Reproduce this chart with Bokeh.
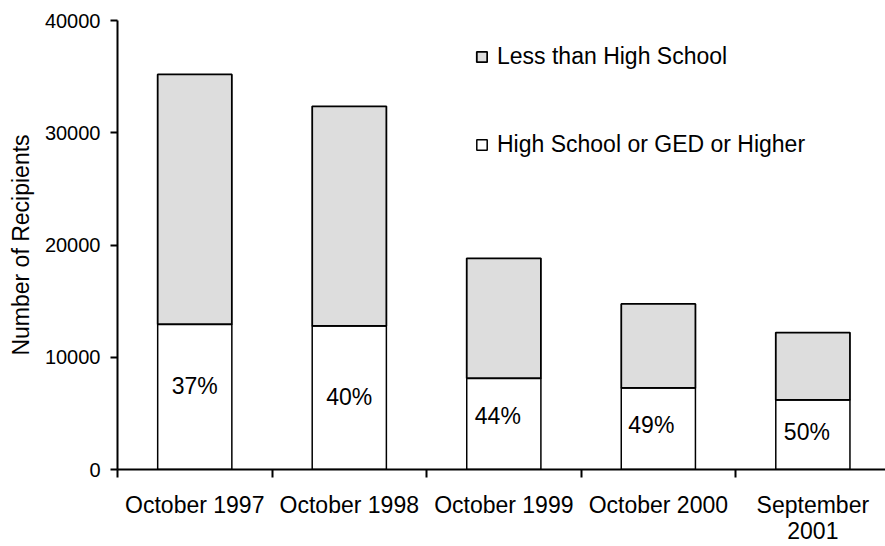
from bokeh.plotting import figure
from bokeh.models import ColumnDataSource, FixedTicker, Range1d, Legend, LegendItem
from bokeh.core.properties import value
from bokeh.embed import file_html
from bokeh.resources import INLINE

# ---- data ----
categories = ["October 1997", "October 1998", "October 1999", "October 2000", "September\n2001"]
hs_or_higher = [12940, 12790, 8130, 7270, 6200]
total_recipients = [35200, 32350, 18810, 14750, 12200]
pct_labels = ["37%", "40%", "44%", "49%", "50%"]
y_ticks = [0, 10000, 20000, 30000, 40000]

# label placement (layout, not data)
pct_label_y = [7480, 6420, 4810, 3920, 3300]
pct_label_dx = [0, 0, -6, -7, -6]

FONT = "Liberation Sans"

less_than_hs = [t - h for t, h in zip(total_recipients, hs_or_higher)]
xs = [i + 0.5 for i in range(len(categories))]

src = ColumnDataSource(dict(x=xs, hs=hs_or_higher, less=less_than_hs,
                            total=total_recipients, lab=pct_labels,
                            ly=pct_label_y, dx=pct_label_dx))

p = figure(width=885, height=546, output_backend="svg", toolbar_location=None,
           x_range=Range1d(0, 4.97), y_range=Range1d(0, 40000),
           min_border_left=117, min_border_right=0, min_border_top=20,
           min_border_bottom=77)
p.outline_line_color = None
p.grid.visible = False
p.background_fill_color = "white"
p.border_fill_color = "white"

r_hs = p.vbar(x="x", width=0.48, bottom=0, top="hs", source=src,
              fill_color="white", line_color="black", line_width=1.5)
r_less = p.vbar(x="x", width=0.48, bottom="hs", top="total", source=src,
                fill_color="#dddddd", line_color="black", line_width=1.8)

p.text(x="x", y="ly", text="lab", source=src, x_offset="dx",
       text_font=value(FONT), text_font_size="23px", text_align="center",
       text_baseline="middle", text_color="black")

# x axis
xa = p.xaxis[0]
xa.ticker = FixedTicker(ticks=xs, minor_ticks=list(range(len(categories) + 1)))
xa.major_label_overrides = {x: c for x, c in zip(xs, categories)}
xa.major_tick_out = 0
xa.major_tick_in = 0
xa.minor_tick_out = 8
xa.minor_tick_in = 0
xa.minor_tick_line_width = 2
xa.minor_tick_line_color = "black"
xa.axis_line_width = 2
xa.axis_line_color = "black"
xa.major_label_text_font = FONT
xa.major_label_text_font_size = "23px"
xa.major_label_text_color = "black"
xa.major_label_text_line_height = 1.0
xa.major_label_standoff = 14

# y axis
ya = p.yaxis[0]
ya.ticker = FixedTicker(ticks=y_ticks)
ya.major_tick_out = 7
ya.major_tick_in = 0
ya.minor_tick_line_color = None
ya.major_tick_line_width = 2
ya.axis_line_width = 2
ya.axis_line_color = "black"
ya.major_label_text_font = FONT
ya.major_label_text_font_size = "20px"
ya.major_label_text_color = "black"
ya.major_label_standoff = 10
ya.axis_label = "Number of Recipients"
ya.axis_label_text_font = FONT
ya.axis_label_text_font_size = "23px"
ya.axis_label_text_font_style = "normal"
ya.axis_label_text_color = "black"
ya.axis_label_standoff = 8

legend = Legend(items=[LegendItem(label="Less than High School", renderers=[r_less]),
                       LegendItem(label="High School or GED or Higher", renderers=[r_hs])],
                location=(358, 311), orientation="vertical",
                padding=0, margin=0, spacing=61, border_line_color=None,
                background_fill_alpha=0, glyph_width=13, glyph_height=13,
                label_height=26, label_standoff=9,
                label_text_font=FONT, label_text_font_size="23px",
                label_text_color="black")
p.add_layout(legend)

open("out.html", "w").write(file_html(p, INLINE))
